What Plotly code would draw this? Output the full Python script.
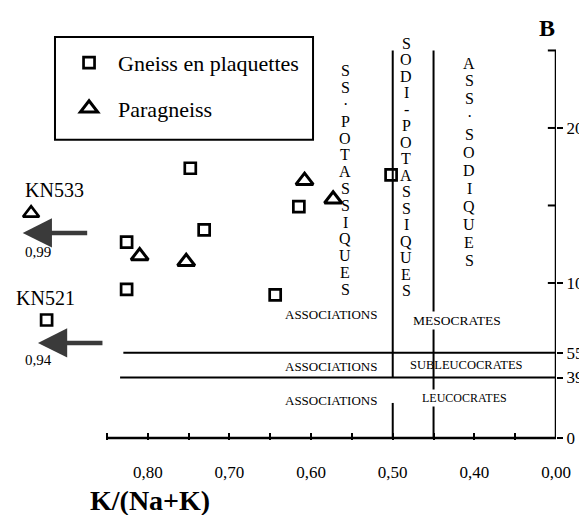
import plotly.graph_objects as go

SERIF = "Liberation Serif, Times New Roman, serif"

# ---- data: K/(Na+K) versus B = Fe+Mg+Ti ----
gneiss_k = [0.748, 0.615, 0.731, 0.826, 0.826, 0.644, 0.502]
gneiss_b = [174.0, 149.2, 134.2, 126.3, 95.9, 92.3, 169.7]
para_k = [0.608, 0.573, 0.810, 0.753]
para_b = [166.0, 154.0, 117.4, 113.7]

# samples whose K/(Na+K) lies beyond the left end of the axis
off_names = ["KN533", "KN521"]
off_k = [0.99, 0.94]
off_b = [145.0, 76.1]
off_symbols = ["triangle-up", "square"]
off_parked_k = [0.943, 0.924]   # drawn just left of the axis start

# ---- axes ----
x_ticks = [0.85, 0.80, 0.75, 0.70, 0.65, 0.60, 0.55, 0.50, 0.45, 0.40, 0.35, 0.30]
x_ticktext = ["", "0,80", "", "0,70", "", "0,60", "", "0,50", "", "0,40", "", "0,00"]
b_ticks = [0, 39, 55, 100, 200]
b_ticktext = ["0", "39", "55", "100", "200"]
b_inner_ticks = [100, 150, 200, 250]
k_start, k_end = 0.85, 0.30
b_top = 250

# field boundaries
k_bounds = [0.50, 0.45]
b_bounds = [55, 39]

fig = go.Figure()

fig.add_trace(go.Scatter(
    x=gneiss_k, y=gneiss_b, mode="markers", name="Gneiss en plaquettes",
    legendgroup="g",
    marker=dict(symbol="square", size=11, color="white",
                line=dict(color="black", width=2.7)),
))
fig.add_trace(go.Scatter(
    x=para_k, y=para_b, mode="markers", name="Paragneiss",
    legendgroup="p",
    marker=dict(symbol="triangle-up", size=15, color="white",
                line=dict(color="black", width=3)),
))
for kx, by, sym in zip(off_parked_k, off_b, off_symbols):
    fig.add_trace(go.Scatter(
        x=[kx], y=[by], mode="markers", showlegend=False,
        marker=dict(symbol=sym, size=11 if sym == "square" else 14,
                    color="white", line=dict(color="black", width=2.7)),
    ))

line = dict(color="black", width=2)
shapes = [
    # axes
    dict(type="line", x0=k_start, x1=k_end - 0.005, y0=0, y1=0,
         line=dict(color="black", width=2.5)),
    dict(type="line", x0=k_end, x1=k_end, y0=0, y1=b_top,
         line=dict(color="black", width=2.5)),
    # K/(Na+K) boundaries
    dict(type="line", x0=k_bounds[0], x1=k_bounds[0], y0=b_bounds[1], y1=b_top, line=line),
    dict(type="line", x0=k_bounds[0], x1=k_bounds[0], y0=0, y1=22.6, line=line),
    dict(type="line", x0=k_bounds[1], x1=k_bounds[1], y0=0, y1=b_top, line=line),
    # B boundaries
    dict(type="line", x0=0.830, x1=k_end, y0=b_bounds[0], y1=b_bounds[0], line=line),
    dict(type="line", x0=0.834, x1=k_end, y0=b_bounds[1], y1=b_bounds[1], line=line),
    # legend frame
    dict(type="rect", xref="paper", yref="paper", x0=0.0989, x1=0.563,
         y0=0.698, y1=0.937, line=dict(color="black", width=2)),
]
for bv in b_inner_ticks:
    shapes.append(dict(type="line", x0=k_end, x1=k_end + 0.010, y0=bv, y1=bv,
                       line=dict(color="black", width=2)))

ann = []


def txt(x, y, s, size=13, **kw):
    ann.append(dict(x=x, y=y, text=s, showarrow=False,
                    font=dict(family=SERIF, size=size, color="black"), **kw))


# field names
txt(0.576, 79.4, "ASSOCIATIONS", 13)
txt(0.576, 45.8, "ASSOCIATIONS", 13)
txt(0.576, 24.5, "ASSOCIATIONS", 13)
txt(0.4217, 76.1, "MESOCRATES", 13.5, bgcolor="white")
txt(0.410, 47.1, "SUBLEUCOCRATES", 12.5)
txt(0.412, 25.8, "LEUCOCRATES", 12, bgcolor="white")

# vertical field names, one letter per row
columns = [
    ("SS·POTASSIQUES", 0.5583, 236.8, 10.84),
    ("SODI-POTASSIQUES", 0.4836, 254.8, 10.65),
    ("ASS·SODIQUES", 0.4064, 241.9, 11.6),
]
for word, cx, top, step in columns:
    for i, ch in enumerate(word):
        txt(cx, top - i * step, ch, 16)

# off-scale samples
name_pos = [(0.914, 160.0), (0.925, 90.3)]
value_pos = [(0.935, 120.2), (0.934, 50.3)]
arrow_tips = [(0.9533, 132.3), (0.9346, 61.3)]
for name, val, (nx, ny), (vx, vy), (tx, ty) in zip(off_names, off_k, name_pos,
                                                   value_pos, arrow_tips):
    txt(nx, ny, name, 20)
    txt(vx, vy, f"{val:.2f}".replace(".", ","), 15)
    ann.append(dict(x=tx, y=ty, ax=66, ay=0, text="", showarrow=True,
                    arrowhead=2, arrowsize=1.3, arrowwidth=4.5,
                    arrowcolor="#3a3a3a", standoff=0))

# axis titles
ann.append(dict(x=0.797, xref="x", y=-0.14, yref="paper", yanchor="middle",
                text="<b>K/(Na+K)</b>", showarrow=False,
                font=dict(family=SERIF, size=28, color="black")))
ann.append(dict(x=0.311, y=264.5, text="<b>B</b>", showarrow=False,
                font=dict(family=SERIF, size=24, color="black")))

fig.update_layout(
    width=579, height=515,
    margin=dict(l=0, r=23, t=10, b=75),
    paper_bgcolor="white", plot_bgcolor="white",
    shapes=shapes, annotations=ann,
    showlegend=True,
    legend=dict(x=0.108, y=0.926, xanchor="left", yanchor="top",
                font=dict(family=SERIF, size=22, color="black"),
                bgcolor="rgba(0,0,0,0)", borderwidth=0,
                itemwidth=48, tracegroupgap=14, traceorder="grouped"),
    xaxis=dict(range=[0.9811, 0.30], tickmode="array", tickvals=x_ticks,
               ticktext=x_ticktext, ticks="inside", ticklen=7, tickwidth=2,
               tickcolor="black", showline=False, showgrid=False,
               zeroline=False, automargin=False, ticklabelstandoff=20,
               tickfont=dict(family=SERIF, size=17, color="black")),
    yaxis=dict(range=[-1.3, 276.1], side="right", tickmode="array",
               tickvals=b_ticks, ticktext=b_ticktext, ticks="outside",
               ticklen=6, tickwidth=2, tickcolor="black", showline=False,
               showgrid=False, zeroline=False, automargin=False,
               tickfont=dict(family=SERIF, size=17, color="black")),
)

fig.write_html("out.html")
